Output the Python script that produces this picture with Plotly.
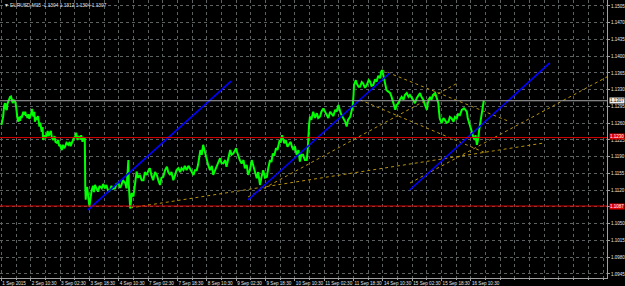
import plotly.graph_objects as go

# ---------------- data ----------------
symbol_title = "EURUSD,M15  1.1304 1.1312 1.1304 1.1307"

bars = [0, 3, 4, 6, 8, 10, 12, 13, 15, 17, 19, 21, 23, 25, 26, 30, 32, 33, 35, 37, 39, 41, 42, 44, 46, 48, 50, 52, 54, 55,
        57, 59, 61, 62, 65, 67, 69, 70, 72, 73, 76, 78, 80, 83, 85, 88, 90, 91, 94, 96, 99, 101, 103, 106, 108, 110, 113, 116, 118, 121,
        124, 126, 128, 130, 132, 134, 137, 139, 142, 146, 149, 151, 153, 156, 158, 161, 163, 166, 168, 172, 174, 177, 178, 180, 182,
        183, 184, 185, 187, 190, 192, 194, 197, 200, 202, 204, 207, 211, 214, 219, 222, 226, 229, 233, 237, 240, 243, 248, 251, 255,
        259, 262, 265, 270, 273, 275, 277, 278, 279, 281, 283, 284, 288, 290, 291, 294, 295, 298, 302, 306, 310, 313, 317, 321, 324,
        327, 331, 335, 339, 343, 346, 349, 353, 357, 361, 364, 368, 371, 375, 379, 382, 386, 390, 393, 397, 400, 404, 408, 411, 415,
        419, 422, 426, 429, 432, 434, 437, 440, 444, 448, 451, 455, 459, 462, 466, 470, 473, 477, 480, 484, 488, 491, 495, 499, 502,
        506, 510, 512, 514, 517, 520, 524, 528, 531, 535, 538, 542, 546, 549, 551, 554, 557, 560, 564, 567, 571, 575, 579, 582, 586,
        589, 592, 595, 599, 602, 607, 609, 612, 615, 617, 620, 624, 628, 631, 634, 637, 640, 644, 648, 651, 654, 658, 662, 666, 668,
        669, 671, 673, 676, 680, 684, 688, 691, 695, 698, 702, 706, 709, 713, 717, 720, 724, 728, 731, 735, 737, 740, 743, 746, 750,
        753, 756, 761, 764, 766, 768, 769, 773, 775, 779, 782, 786, 789, 793, 797, 801, 804, 807, 811, 815, 818, 822, 826, 828, 830,
        832, 834, 837, 840, 844, 848, 851, 855, 859, 862, 866, 869, 873, 877, 880, 884, 888, 891, 895, 899, 902, 906, 909, 913, 916,
        920, 924, 928, 930, 935, 938, 941, 946, 949, 953, 954, 956, 960, 964, 967, 971, 975, 978, 982, 986, 989, 993, 996, 1000, 1004,
        1009, 1012, 1015, 1017, 1022, 1025, 1029, 1032, 1034, 1037, 1039, 1040, 1042, 1044, 1046, 1047, 1049, 1051, 1052]

close = [1.1256, 1.1271, 1.1274, 1.1296, 1.1302, 1.1290, 1.1288, 1.1300, 1.1305, 1.1311, 1.1315, 1.1316, 1.1311, 1.1302, 1.1309,
         1.1305, 1.1296, 1.1281, 1.1271, 1.1263, 1.1273, 1.1265, 1.1275, 1.1271, 1.1281, 1.1284, 1.1277, 1.1284, 1.1275, 1.1277,
         1.1271, 1.1279, 1.1269, 1.1271, 1.1281, 1.1290, 1.1277, 1.1274, 1.1284, 1.1263, 1.1273, 1.1267, 1.1275, 1.1253, 1.1261,
         1.1242, 1.1252, 1.1225, 1.1235, 1.1229, 1.1235, 1.1244, 1.1233, 1.1240, 1.1244, 1.1231, 1.1225, 1.1233, 1.1221, 1.1219,
         1.1225, 1.1212, 1.1215, 1.1208, 1.1204, 1.1215, 1.1208, 1.1211, 1.1219, 1.1215, 1.1221, 1.1212, 1.1218, 1.1225, 1.1229,
         1.1232, 1.1240, 1.1225, 1.1233, 1.1229, 1.1235, 1.1221, 1.1231, 1.1225, 1.1229,
         1.1127, 1.1100, 1.1116, 1.1127, 1.1104, 1.1086, 1.1100, 1.1120, 1.1129, 1.1116, 1.1131, 1.1123, 1.1117, 1.1129, 1.1124,
         1.1133, 1.1124, 1.1131, 1.1118, 1.1120, 1.1129, 1.1123, 1.1124, 1.1133, 1.1135,
         1.1125, 1.1131, 1.1141, 1.1135, 1.1124, 1.1150, 1.1183, 1.1131, 1.1100, 1.1082, 1.1100, 1.1114, 1.1107, 1.1121, 1.1135,
         1.1146, 1.1159, 1.1146, 1.1152, 1.1141, 1.1141, 1.1158, 1.1152, 1.1162, 1.1166,
         1.1152, 1.1141, 1.1158, 1.1152, 1.1139, 1.1131, 1.1146, 1.1148, 1.1162, 1.1169, 1.1158, 1.1152, 1.1158, 1.1141, 1.1152,
         1.1162, 1.1166, 1.1158, 1.1166, 1.1162, 1.1171, 1.1162, 1.1171, 1.1166, 1.1160,
         1.1152, 1.1162, 1.1162, 1.1173, 1.1194, 1.1204, 1.1194, 1.1215, 1.1200, 1.1183, 1.1173, 1.1162, 1.1171, 1.1152, 1.1162,
         1.1169, 1.1179, 1.1187, 1.1177, 1.1176, 1.1183, 1.1169, 1.1187, 1.1204, 1.1194,
         1.1197, 1.1204, 1.1208, 1.1200, 1.1190, 1.1183, 1.1176, 1.1183, 1.1166, 1.1173, 1.1152, 1.1162, 1.1183, 1.1173, 1.1162,
         1.1152, 1.1145, 1.1158, 1.1131, 1.1146, 1.1162, 1.1146, 1.1148, 1.1166, 1.1183,
         1.1179, 1.1197, 1.1192, 1.1208, 1.1204, 1.1225, 1.1219, 1.1235, 1.1225, 1.1218, 1.1225, 1.1211, 1.1217, 1.1221, 1.1210,
         1.1204, 1.1212, 1.1194, 1.1204, 1.1180, 1.1194, 1.1194, 1.1183, 1.1183, 1.1204,
         1.1225, 1.1256, 1.1274, 1.1267, 1.1284, 1.1271, 1.1281, 1.1271, 1.1274, 1.1284, 1.1291, 1.1284, 1.1277, 1.1271, 1.1284,
         1.1281, 1.1275, 1.1288, 1.1284, 1.1298, 1.1288, 1.1281, 1.1275, 1.1270, 1.1263,
         1.1253, 1.1267, 1.1274, 1.1284, 1.1295, 1.1319, 1.1340, 1.1350, 1.1343, 1.1336, 1.1336, 1.1346, 1.1343, 1.1334, 1.1340,
         1.1350, 1.1347, 1.1338, 1.1340, 1.1352, 1.1347, 1.1359, 1.1354, 1.1367, 1.1371,
         1.1365, 1.1357, 1.1343, 1.1329, 1.1326, 1.1323, 1.1315, 1.1302, 1.1288, 1.1298, 1.1302, 1.1309, 1.1315, 1.1309, 1.1319,
         1.1323, 1.1315, 1.1319, 1.1312, 1.1306, 1.1302, 1.1313, 1.1317, 1.1323, 1.1315,
         1.1309, 1.1298, 1.1288, 1.1302, 1.1315, 1.1309, 1.1319, 1.1323, 1.1313, 1.1302, 1.1288, 1.1270, 1.1260, 1.1271, 1.1267,
         1.1261, 1.1263, 1.1273, 1.1270, 1.1263, 1.1273, 1.1270, 1.1279, 1.1277, 1.1288,
         1.1291, 1.1288, 1.1284, 1.1271, 1.1253, 1.1246, 1.1232, 1.1225, 1.1235, 1.1215, 1.1223, 1.1229, 1.1246, 1.1260, 1.1263,
         1.1274, 1.1284, 1.1298, 1.1307]

# time-scale labels (bar index -> label)
tick_bars = [0, 64, 128, 192, 256, 320, 384, 448, 512, 576, 640, 704, 768, 832, 896, 960, 1024]
tick_labels = ["1 Sep 2015", "2 Sep 10:30", "3 Sep 02:30", "3 Sep 18:30", "4 Sep 10:30", "7 Sep 02:30",
               "7 Sep 18:30", "8 Sep 10:30", "9 Sep 02:30", "9 Sep 18:30", "10 Sep 10:30", "11 Sep 02:30",
               "11 Sep 18:30", "14 Sep 10:30", "15 Sep 02:30", "15 Sep 18:30", "16 Sep 10:30"]

price_ticks = [1.1505, 1.1470, 1.1435, 1.1400, 1.1365, 1.1330, 1.1295, 1.1260, 1.1225, 1.1190,
               1.1155, 1.1120, 1.1085, 1.1050, 1.1015, 1.0980, 1.0945]
# the 1.1085 scale label sits fully under the red level tag in the reference
hidden_price_labels = [1.1085]

# blue channel lines (bar index pairs, price pairs)
channel_x = [[189, 501], [538, 847], [891, 1196]]
channel_y = [[1.1079, 1.1348], [1.1100, 1.1365], [1.1121, 1.1386]]

# dotted golden trend lines
dotted_x = [[281, 1185], [538, 993], [830, 1109], [782, 1056], [891, 1321]]
dotted_y = [[1.1083, 1.1219], [1.1106, 1.1343], [1.1371, 1.1263], [1.1309, 1.1198], [1.1135, 1.1357]]

red_levels = [1.1230, 1.1087]
bid_price = 1.1307

x_range = [-2.94, 1320.7]
y_range = [1.09366, 1.15175]

# ---------------- figure ----------------
GRID = "#5c6262"
TXT = "#e6e6e6"
FONT = "Liberation Sans"

fig = go.Figure()

for xs, ys in zip(dotted_x, dotted_y):
    fig.add_trace(go.Scatter(x=xs, y=ys, mode="lines",
                             line=dict(color="#b8930b", width=1, dash="dot"),
                             hoverinfo="skip", showlegend=False))

for lvl in red_levels:
    fig.add_shape(type="line", xref="paper", x0=0, x1=1, yref="y", y0=lvl, y1=lvl,
                  line=dict(color="#e00000", width=1))
fig.add_shape(type="line", xref="paper", x0=0, x1=1, yref="y", y0=bid_price, y1=bid_price,
              line=dict(color="#a8a8a8", width=1))

fig.add_trace(go.Scatter(x=bars, y=close, mode="lines",
                         line=dict(color="#00ff00", width=2),
                         hoverinfo="skip", showlegend=False))

for xs, ys in zip(channel_x, channel_y):
    fig.add_trace(go.Scatter(x=xs, y=ys, mode="lines",
                             line=dict(color="#0000ff", width=1.6),
                             hoverinfo="skip", showlegend=False))

# price-scale labels for lines
for lvl, ysh in zip(red_levels, [1.5, 0]):
    fig.add_annotation(xref="paper", x=1.0, xanchor="left", xshift=2, y=lvl, yref="y", yshift=ysh,
                       text=f"{lvl:.4f}", showarrow=False, bgcolor="#e00000",
                       font=dict(family=FONT, size=4.5, color="#ffffff"), borderpad=0)
fig.add_annotation(xref="paper", x=1.0, xanchor="left", xshift=2, y=bid_price, yref="y",
                   text=f"{bid_price:.4f}", showarrow=False, bgcolor="#f0f0f0",
                   font=dict(family=FONT, size=4.5, color="#000000"), borderpad=0)

fig.add_annotation(xref="paper", yref="paper", x=0, y=1, xanchor="left", yanchor="top",
                   xshift=2, yshift=-1, text="\u25BC " + symbol_title, showarrow=False,
                   font=dict(family=FONT, size=4.8, color=TXT))

fig.update_xaxes(range=x_range, tickmode="array", tickvals=tick_bars, ticktext=tick_labels,
                 tickangle=0, automargin=False,
                 ticks="outside", ticklen=2, tickcolor="#a0a0a0",
                 ticklabelposition="outside right",
                 tickfont=dict(family=FONT, size=4.6, color=TXT),
                 showgrid=True, gridcolor=GRID, griddash="dot", gridwidth=1,
                 minor=dict(tick0=0, dtick=32, showgrid=True, gridcolor=GRID, griddash="dot", gridwidth=1,
                            ticks="outside", ticklen=1, tickcolor="#a0a0a0"),
                 showline=True, linecolor="#a0a0a0", linewidth=1, mirror=False,
                 zeroline=False, fixedrange=True)

fig.update_yaxes(range=y_range, side="right", tickmode="array", tickvals=price_ticks,
                 ticktext=["" if p in hidden_price_labels else f"{p:.4f}" for p in price_ticks],
                 automargin=False,
                 ticks="outside", ticklen=2, tickcolor="#a0a0a0",
                 tickfont=dict(family=FONT, size=4.5, color=TXT),
                 showgrid=True, gridcolor=GRID, griddash="dot", gridwidth=1,
                 showline=True, linecolor="#a0a0a0", linewidth=1,
                 zeroline=False, fixedrange=True)

fig.update_layout(width=625, height=286, margin=dict(l=0, r=18, t=0, b=8, autoexpand=False),
                  paper_bgcolor="#000000", plot_bgcolor="#000000", showlegend=False)

fig.write_html("out.html")
